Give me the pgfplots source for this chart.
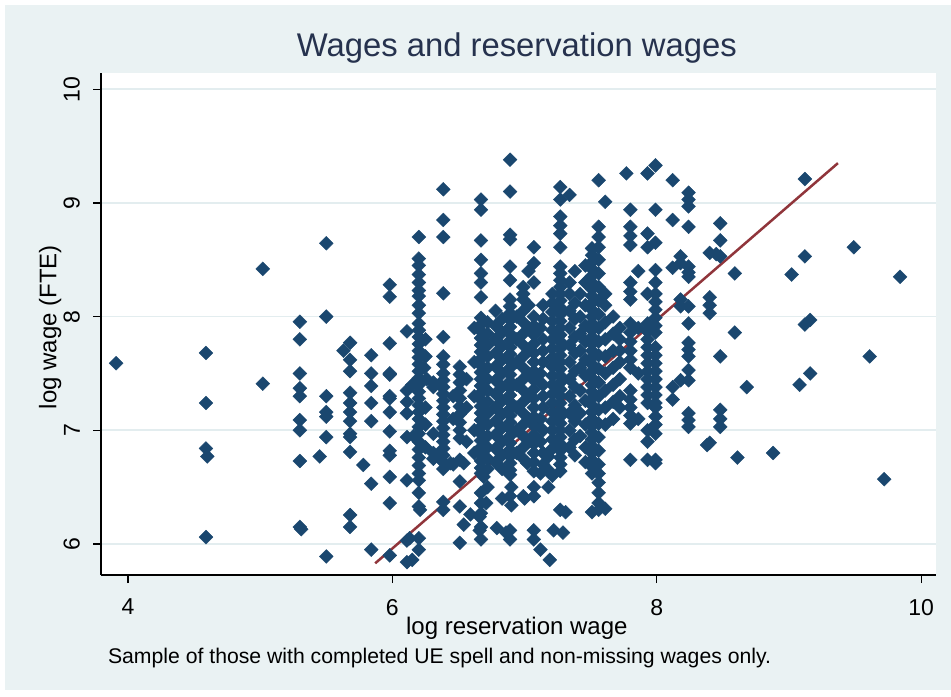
\documentclass[border=0pt]{standalone}
\usepackage{pgfplots}
\pgfplotsset{compat=1.18}
\usepackage{pgfplotstable}
\usepackage{fontspec}
\setmainfont{Liberation Sans}
\definecolor{bgc}{HTML}{EAF2F3}
\definecolor{navy}{HTML}{1A476F}
\definecolor{maroon}{HTML}{90353B}
\definecolor{gridc}{HTML}{E3EDEF}
\definecolor{titc}{HTML}{26324E}

\pgfplotstableread{
x y
3.91 7.59
4.59 7.68
4.59 7.24
4.59 6.84
4.60 6.77
4.59 6.06
5.02 8.42
5.02 7.41
5.30 7.955
5.30 7.80
5.30 7.50
5.30 7.37
5.30 7.30
5.30 7.09
5.30 7.00
5.30 6.73
5.30 6.15
5.31 6.13
5.50 8.645
5.50 8.00
5.50 7.30
5.50 7.16
5.50 7.12
5.50 6.94
5.50 5.89
5.45 6.77
5.68 7.77
5.68 7.62
5.68 7.52
5.68 7.33
5.68 7.24
5.68 7.16
5.68 7.08
5.68 6.97
5.68 6.94
5.68 6.81
5.68 6.255
5.68 6.15
5.63 7.70
5.84 7.66
5.84 7.50
5.84 7.39
5.84 7.24
5.84 7.08
5.84 6.53
5.84 5.95
5.78 6.695
5.98 8.28
5.98 8.175
5.98 7.765
5.98 7.50
5.98 7.49
5.98 7.30
5.98 7.28
5.98 7.16
5.98 6.99
5.98 6.82
5.98 6.78
5.98 6.59
5.98 6.36
5.98 5.90
6.11 7.87
6.11 7.35
6.11 7.25
6.11 7.15
6.11 6.94
6.11 6.56
6.11 6.03
6.11 5.84
6.15 5.86
6.13 6.05
6.21 6.30
6.20 8.70
6.20 8.51
6.20 8.45
6.20 8.37
6.20 8.30
6.20 8.23
6.20 8.18
6.20 8.10
6.20 8.03
6.20 7.94
6.20 7.88
6.20 7.82
6.20 7.76
6.20 7.70
6.20 7.64
6.20 7.58
6.20 7.52
6.20 7.46
6.20 7.40
6.20 7.34
6.20 7.28
6.20 7.22
6.20 7.16
6.20 7.10
6.20 7.03
6.20 6.97
6.20 6.90
6.20 6.83
6.20 6.76
6.20 6.69
6.20 6.62
6.20 6.56
6.20 6.45
6.20 6.33
6.20 6.05
6.20 5.95
6.15 7.40
6.24 7.55
6.25 7.20
6.16 6.95
6.26 7.45
6.31 7.42
6.36 7.40
6.25 7.80
6.25 7.65
6.25 7.05
6.25 6.85
6.385 9.12
6.385 8.85
6.385 8.70
6.385 8.205
6.385 7.82
6.385 7.65
6.385 7.58
6.385 7.50
6.385 7.44
6.385 7.38
6.385 7.32
6.385 7.26
6.385 7.20
6.385 7.14
6.385 7.08
6.385 7.02
6.385 6.96
6.385 6.90
6.385 6.84
6.385 6.78
6.385 6.72
6.385 6.66
6.385 6.37
6.385 6.30
6.31 7.38
6.31 6.97
6.31 6.80
6.31 6.75
6.44 6.71
6.36 6.80
6.51 7.56
6.51 7.49
6.51 7.42
6.51 7.35
6.51 7.28
6.51 7.21
6.51 7.14
6.51 7.07
6.51 7.00
6.51 6.93
6.51 6.74
6.51 6.55
6.51 6.33
6.51 6.01
6.46 7.30
6.46 7.10
6.46 6.70
6.56 7.45
6.56 7.20
6.56 6.90
6.54 6.71
6.54 6.17
6.59 6.26
6.62 7.90
6.62 7.60
6.62 7.30
6.62 7.00
6.62 6.80
6.67 9.03
6.67 8.94
6.67 8.67
6.67 8.50
6.67 8.38
6.67 8.30
6.67 8.17
6.67 7.99
6.67 7.93
6.67 7.87
6.67 7.81
6.67 7.75
6.67 7.69
6.67 7.63
6.67 7.57
6.67 7.51
6.67 7.45
6.67 7.39
6.67 7.33
6.67 7.27
6.67 7.21
6.67 7.15
6.67 7.09
6.67 7.03
6.67 6.97
6.67 6.91
6.67 6.85
6.67 6.79
6.67 6.73
6.67 6.67
6.67 6.62
6.69 6.59
6.67 6.45
6.67 6.36
6.67 6.27
6.66 6.24
6.67 6.15
6.66 6.12
6.67 6.04
6.72 7.95
6.72 7.85
6.72 7.75
6.72 7.65
6.72 7.55
6.72 7.45
6.72 7.35
6.72 7.25
6.72 7.15
6.72 7.05
6.72 6.95
6.72 6.85
6.72 6.75
6.72 6.66
6.72 6.50
6.71 6.36
6.78 8.05
6.78 7.92
6.78 7.80
6.78 7.68
6.78 7.56
6.78 7.44
6.78 7.32
6.78 7.20
6.78 7.08
6.78 6.96
6.78 6.84
6.78 6.72
6.79 6.14
6.83 7.98
6.83 7.86
6.83 7.74
6.83 7.62
6.83 7.50
6.83 7.38
6.83 7.26
6.83 7.14
6.83 7.02
6.83 6.90
6.83 6.78
6.83 6.66
6.83 6.40
6.89 9.38
6.89 9.10
6.89 8.72
6.89 8.68
6.89 8.44
6.89 8.32
6.89 8.15
6.89 8.09
6.89 8.03
6.89 7.97
6.89 7.91
6.89 7.85
6.89 7.79
6.89 7.73
6.89 7.67
6.89 7.61
6.89 7.55
6.89 7.49
6.89 7.43
6.89 7.37
6.89 7.31
6.89 7.25
6.89 7.19
6.89 7.13
6.89 7.07
6.89 7.01
6.89 6.95
6.89 6.89
6.89 6.83
6.89 6.77
6.89 6.71
6.89 6.65
6.89 6.61
6.90 6.50
6.89 6.42
6.90 6.34
6.89 6.12
6.89 6.04
6.86 6.10
6.94 8.00
6.94 7.80
6.94 7.60
6.94 7.40
6.94 7.20
6.94 7.00
6.94 6.80
6.99 8.26
6.99 8.20
6.99 8.15
6.99 8.05
6.99 7.95
6.99 7.85
6.99 7.75
6.99 7.65
6.99 7.55
6.99 7.45
6.99 7.35
6.99 7.25
6.99 7.15
6.99 7.05
6.99 6.95
6.99 6.85
6.99 6.75
6.99 6.42
7.02 6.71
7.00 6.40
7.03 8.40
7.03 8.10
7.03 7.90
7.03 7.70
7.03 7.50
7.03 7.30
7.03 7.10
7.03 6.90
7.07 8.61
7.07 8.47
7.07 8.30
7.07 8.00
7.07 7.92
7.07 7.84
7.07 7.76
7.07 7.68
7.07 7.60
7.07 7.52
7.07 7.44
7.07 7.36
7.07 7.28
7.07 7.20
7.07 7.12
7.07 7.04
7.07 6.96
7.07 6.88
7.07 6.80
7.07 6.72
7.07 6.64
7.07 6.50
7.07 6.42
7.07 6.12
7.07 6.04
7.12 5.95
7.12 7.90
7.12 7.50
7.12 7.10
7.12 6.90
7.12 6.62
7.14 8.10
7.14 7.98
7.14 7.80
7.14 7.70
7.14 7.60
7.14 7.40
7.14 7.30
7.14 7.20
7.14 7.00
7.14 6.80
7.14 6.70
7.18 6.77
7.18 6.65
7.18 6.50
7.21 8.20
7.21 8.12
7.21 8.04
7.21 7.96
7.21 7.88
7.21 7.80
7.21 7.72
7.21 7.64
7.21 7.56
7.21 7.48
7.21 7.40
7.21 7.32
7.21 7.24
7.21 7.16
7.21 7.08
7.21 7.00
7.21 6.92
7.21 6.84
7.21 6.60
7.22 6.12
7.19 5.86
7.27 9.14
7.27 9.03
7.34 9.07
7.27 8.88
7.27 8.80
7.27 8.73
7.27 8.61
7.27 8.44
7.27 8.38
7.27 8.32
7.27 8.26
7.27 8.20
7.27 8.14
7.27 8.08
7.27 8.02
7.27 7.96
7.27 7.90
7.27 7.84
7.27 7.78
7.27 7.72
7.27 7.66
7.27 7.60
7.27 7.54
7.27 7.48
7.27 7.42
7.27 7.36
7.27 7.30
7.27 7.24
7.27 7.18
7.27 7.12
7.27 7.06
7.27 7.00
7.27 6.94
7.27 6.88
7.27 6.82
7.27 6.76
7.27 6.70
7.27 6.64
7.27 6.30
7.29 6.10
7.31 6.28
7.34 8.30
7.34 8.20
7.34 8.05
7.34 7.90
7.34 7.75
7.34 7.60
7.34 7.45
7.34 7.30
7.34 7.15
7.34 7.00
7.34 6.85
7.38 8.40
7.38 8.12
7.38 7.98
7.38 7.82
7.38 7.68
7.38 7.52
7.38 7.38
7.38 7.22
7.38 7.08
7.38 6.92
7.38 6.78
7.42 8.20
7.42 8.00
7.42 7.85
7.42 7.70
7.42 7.55
7.42 7.35
7.42 7.15
7.42 6.95
7.46 8.45
7.46 8.30
7.46 8.10
7.46 7.92
7.46 7.78
7.46 7.62
7.46 7.48
7.46 7.26
7.46 7.05
7.46 6.85
7.46 6.72
7.51 8.60
7.51 8.54
7.51 8.48
7.51 8.42
7.51 8.36
7.51 8.30
7.51 8.24
7.51 8.18
7.51 8.12
7.51 8.06
7.51 8.00
7.51 7.94
7.51 7.88
7.51 7.82
7.51 7.76
7.51 7.70
7.51 7.64
7.51 7.58
7.51 7.52
7.51 7.46
7.51 7.40
7.51 7.34
7.51 7.28
7.51 7.22
7.51 7.16
7.51 7.10
7.51 7.04
7.51 6.98
7.51 6.92
7.51 6.86
7.51 6.80
7.51 6.74
7.51 6.68
7.51 6.62
7.51 6.28
7.56 9.20
7.56 8.79
7.56 8.70
7.56 8.61
7.56 8.50
7.56 8.38
7.56 8.26
7.56 8.14
7.56 8.02
7.56 7.90
7.56 7.78
7.56 7.66
7.56 7.54
7.56 7.42
7.56 7.30
7.56 7.18
7.56 7.06
7.56 6.94
7.56 6.82
7.56 6.70
7.56 6.62
7.56 6.54
7.56 6.45
7.56 6.36
7.56 6.30
7.61 9.01
7.61 8.20
7.61 8.10
7.61 7.95
7.61 7.80
7.61 7.65
7.61 7.50
7.61 7.35
7.61 7.20
7.61 7.05
7.61 6.31
7.67 8.00
7.67 7.85
7.67 7.70
7.67 7.55
7.67 7.40
7.67 7.25
7.67 7.10
7.72 7.90
7.72 7.80
7.72 7.70
7.72 7.60
7.72 7.45
7.72 7.30
7.72 7.20
7.77 9.26
7.80 8.94
7.80 8.79
7.80 8.71
7.80 8.63
7.80 8.30
7.80 8.22
7.80 8.15
7.80 7.94
7.80 7.86
7.80 7.78
7.80 7.70
7.80 7.62
7.80 7.55
7.80 7.35
7.80 7.27
7.80 7.20
7.80 7.13
7.80 7.06
7.80 6.74
7.86 8.40
7.86 7.90
7.86 7.50
7.86 7.10
7.93 9.26
7.93 8.73
7.93 8.61
7.93 8.20
7.93 7.94
7.93 7.87
7.93 7.80
7.93 7.73
7.93 7.66
7.93 7.59
7.93 7.52
7.93 7.45
7.93 7.38
7.93 7.31
7.93 7.24
7.93 7.00
7.93 6.90
7.93 6.74
7.99 9.33
7.99 8.94
7.99 8.65
7.99 8.41
7.99 8.30
7.99 8.20
7.99 8.13
7.99 8.06
7.99 7.99
7.99 7.92
7.99 7.86
7.99 7.73
7.99 7.66
7.99 7.59
7.99 7.52
7.99 7.45
7.99 7.38
7.99 7.31
7.99 7.24
7.99 7.20
7.99 7.12
7.99 7.05
7.99 6.97
7.99 6.74
7.99 6.71
8.12 9.20
8.12 8.85
8.12 8.43
8.12 7.38
8.12 7.27
8.18 8.53
8.18 8.47
8.18 8.15
8.18 8.09
8.18 7.44
8.24 9.09
8.24 9.03
8.24 8.97
8.24 8.79
8.24 8.44
8.24 8.39
8.24 8.35
8.24 8.09
8.24 7.94
8.24 7.77
8.24 7.71
8.24 7.65
8.24 7.53
8.24 7.44
8.24 7.15
8.24 7.09
8.24 7.03
8.40 8.56
8.40 8.17
8.40 8.10
8.40 8.03
8.40 6.89
8.38 6.87
8.48 8.82
8.48 8.67
8.48 8.53
8.45 8.55
8.48 7.65
8.48 7.18
8.48 7.10
8.48 7.03
8.59 8.38
8.59 7.86
8.61 6.76
8.68 7.38
8.88 6.80
9.02 8.37
9.12 9.21
9.12 8.53
9.12 7.93
9.16 7.97
9.16 7.50
9.08 7.40
9.49 8.61
9.61 7.65
9.72 6.57
9.84 8.35
}\scatterdata

\pgfplotstableread{
x y
5.87 5.83
9.37 9.35
}\fitline

\begin{document}
\begin{tikzpicture}[x=0.5pt,y=0.5pt]
\path[use as bounding box] (0,0) rectangle (951,696);
\fill[white] (0,0) rectangle (951,696);
\fill[bgc] (5,6) rectangle (951,691);
\begin{axis}[
  at={(50.5pt,60.5pt)}, anchor=south west,
  scale only axis, width=417.5pt, height=251pt,
  xmin=3.796, xmax=10.112, ymin=5.727, ymax=10.143,
  axis lines*=left,
  axis line style={black, line width=0.8pt},
  axis background/.style={fill=white},
  tick align=outside,
  major tick length=4pt,
  tick style={black, line width=0.6pt},
  xtick={4,6,8,10}, ytick={6,7,8,9,10},
  ymajorgrids, grid style={gridc, line width=0.8pt},
  /pgf/number format/assume math mode=true,
  ticklabel style={font=\fontsize{11.5}{13}\selectfont, text=black},
  xticklabel style={yshift=-4.5pt},
  yticklabel style={xshift=-3pt, rotate=90, anchor=south},
  xlabel={log reservation wage},
  ylabel={log wage (FTE)},
  label style={font=\fontsize{12}{14}\selectfont, text=black},
  xlabel style={at={(axis description cs:0.498,-0.106)}, anchor=center},
  ylabel style={at={(axis description cs:-0.061,0.494)}, anchor=center, rotate=0},
  clip=false,
]
\addplot[only marks, mark=square*, mark size=2.45pt, mark options={rotate=45, fill=navy, draw=navy, line width=0.2pt}] table[x=x,y=y] {\scatterdata};
\addplot[maroon, line width=1.25pt, no marks] table[x=x,y=y] {\fitline};
\node[anchor=center, font=\fontsize{16.4}{18}\selectfont, text=titc] at (axis description cs:0.498,1.0498) {Wages and reservation wages};
\node[anchor=west, font=\fontsize{10.6}{12}\selectfont, text=black] at (axis description cs:0.0,-0.165) {Sample of those with completed UE spell and non-missing wages only.};
\end{axis}
\end{tikzpicture}
\end{document}
